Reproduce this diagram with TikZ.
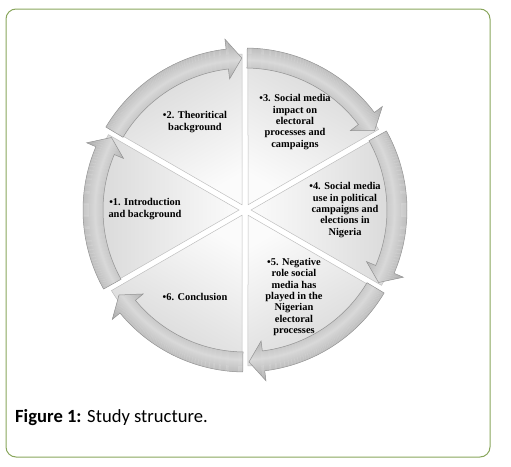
\documentclass[tikz,border=0pt]{standalone}
\usepackage{fontspec}
\setmainfont{Liberation Serif}
\newfontfamily\capfont{Carlito}
\definecolor{framegreen}{RGB}{137,166,92}

\tikzset{
  seclabel/.style={font=\bfseries\fontsize{10.4}{11.3}\selectfont, align=center, inner sep=0pt},
  wedgeline/.style={draw=gray!50, line width=0.5pt},
  ringline/.style={draw=gray!85, line width=0.5pt},
}

% one shaded ring arrow, from angle #1 clockwise to its tip at angle #2
\newcommand{\ringarrow}[2]{%
  \pgfmathsetmacro\headbase{#2+5.5}%
  \begin{scope}
    \clip (#1:162) arc[start angle=#1, end angle=\headbase, radius=162] -- (\headbase:172)
      -- (#2:152) -- (\headbase:132) -- (\headbase:142)
      arc[start angle=\headbase, end angle=#1, radius=142] -- cycle;
    \foreach \r in {130,...,174} {
      \pgfmathsetmacro\g{30+1.7*abs(\r-150)}
      \draw[line width=1.2pt, gray!\g] (0,0) circle (\r);
    }
  \end{scope}
  \draw[ringline] (#1:162) arc[start angle=#1, end angle=\headbase, radius=162] -- (\headbase:172)
    -- (#2:152) -- (\headbase:132) -- (\headbase:142)
    arc[start angle=\headbase, end angle=#1, radius=142] -- cycle;
}

\begin{document}
\begin{tikzpicture}[x=1pt,y=1pt]
  \useasboundingbox (0,0) rectangle (511,-466);
  \draw[draw=framegreen, line width=1pt, rounded corners=10pt] (6,-9) rectangle (490,-457);

  \begin{scope}[shift={(245,-210)}]
    % six wedges
    \foreach \a in {-90,-30,30,90,150,210} {
      \pgfmathsetmacro\mid{\a+30}
      \pgfmathsetmacro\rot{\a-60}
      \shadedraw[wedgeline, top color=gray!32, bottom color=gray!3, shading angle=\rot]
        (\mid:6) -- (\a+1.1:156) arc[start angle=\a+1.1, end angle=\a+58.9, radius=156] -- cycle;
    }
    % ring arrows
    \ringarrow{209.2}{151.5}
    \ringarrow{149.2}{91.2}
    \ringarrow{89.2}{31.5}
    \ringarrow{29.2}{-28.5}
    \ringarrow{-30.8}{-88.5}
    \ringarrow{-90.8}{-146}
  \end{scope}

  \node[seclabel] (intro)  at (145,-209) {•1. Introduction\\and background};
  \node[seclabel] (theory) at (195,-122) {•2. Theoritical\\background};
  \node[seclabel] (impact) at (295,-122) {•3. Social media\\impact on\\electoral\\processes and\\campaigns};
  \node[seclabel] (use)    at (345,-210) {•4. Social media\\use in political\\campaigns and\\elections in\\Nigeria};
  \node[seclabel] (negrole) at (294,-297) {•5. Negative\\role social\\media has\\played in the\\Nigerian\\electoral\\processes};
  \node[seclabel] (concl)  at (195,-297) {•6. Conclusion};

  \node[anchor=base west, inner sep=0pt, font=\capfont\fontsize{18.6}{20}\selectfont] (caption)
    at (15,-422) {\textbf{Figure 1:} Study structure.};
\end{tikzpicture}
\end{document}
